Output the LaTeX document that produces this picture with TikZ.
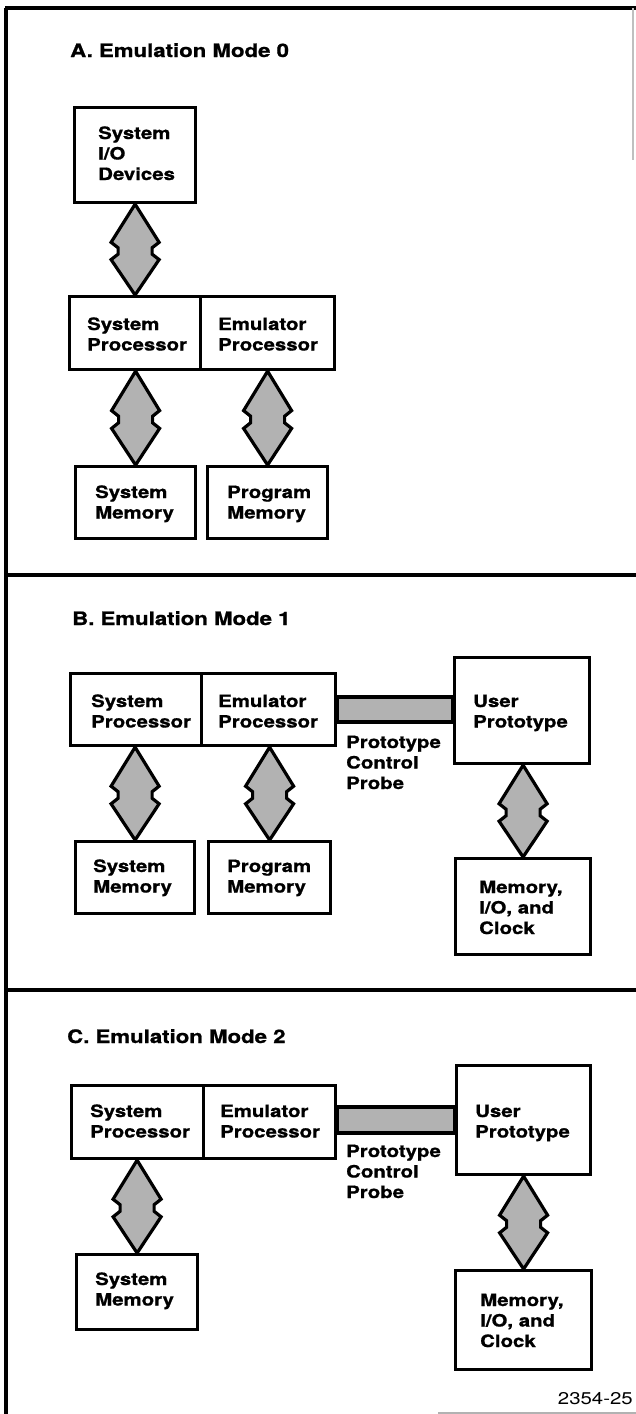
\documentclass[tikz,border=0pt]{standalone}
\usepackage{fontspec}
\usetikzlibrary{calc}
\newfontfamily\hv{TeX Gyre Heros}[FakeStretch=1.2, BoldFeatures={FakeBold=0.9}]
\newcommand\ml[1]{\vtop{\baselineskip=20.5pt\halign{##\hfil\cr#1\crcr}}}
\tikzset{
  frameline/.style={line width=3.2pt},
  blk/.style={draw, line width=3.2pt, rectangle, inner sep=0pt, anchor=north west},
  lbl/.style={font=\hv\bfseries\fontsize{17}{20.5}\selectfont, anchor=base west, inner sep=0pt},
  ttl/.style={font=\hv\bfseries\fontsize{18.5}{22}\selectfont, anchor=base west, inner sep=0pt},
  busarrow/.style={draw, line width=3.2pt, fill=black!30, line join=miter, miter limit=4},
  probe/.style={draw, line width=3.2pt, fill=black!30},
}
\newcommand\bus[2]{%
  \path[busarrow] let \p1=(#1), \p2=(#2), \n1={\y1-\y2} in
  (\x2,\y1) -- (\x2-24pt,\y1-0.42*\n1) -- (\x2-17pt,\y1-0.48*\n1) -- (\x2-17pt,\y1-0.55*\n1)
  -- (\x2-24pt,\y1-0.61*\n1) -- (\x2,\y2) -- (\x2+24pt,\y1-0.61*\n1) -- (\x2+17pt,\y1-0.55*\n1)
  -- (\x2+17pt,\y1-0.48*\n1) -- (\x2+24pt,\y1-0.42*\n1) -- cycle;}
\begin{document}
\begin{tikzpicture}[x=1pt,y=-1pt]
\useasboundingbox (0,0) rectangle (636,1414);
% frame
\draw[frameline] (5,8) -- (636,8);
\draw[frameline] (6,8) -- (6,1414);
\draw[frameline] (6,575) -- (636,575);
\draw[frameline] (6,990) -- (636,990);
\draw[gray!50, line width=1.2pt] (633,8) -- (633,160);
\draw[gray!60, line width=1.2pt] (438,1413) -- (636,1413);

% ---------- A ----------
\node[ttl] (ta) at (70,57) {A. Emulation Mode 0};
\node[blk, minimum width=121pt, minimum height=95pt] (sio) at (73,106) {};
\node[blk, minimum width=131pt, minimum height=73pt] (aSP) at (68,295) {};
\node[blk, minimum width=134pt, minimum height=73pt] (aEP) at (199,295) {};
\node[blk, minimum width=120pt, minimum height=72pt] (aSM) at (74,465) {};
\node[blk, minimum width=120pt, minimum height=72pt] (aPM) at (206,465) {};
\node[lbl] (tsio) at (98,139) {\ml{System\cr I/O\cr Devices}};
\node[lbl] (taSP) at (87,330) {\ml{System\cr Processor}};
\node[lbl] (taEP) at (218,330) {\ml{Emulator\cr Processor}};
\node[lbl] (taSM) at (95,498) {\ml{System\cr Memory}};
\node[lbl] (taPM) at (227,498) {\ml{Program\cr Memory}};
\bus{sio.south}{aSP.north}
\bus{aSP.south}{aSM.north}
\bus{aEP.south}{aPM.north}

% ---------- B ----------
\node[ttl] (tb) at (72,625) {B. Emulation Mode 1};
\coordinate (pb1) at (0,697);
\coordinate (pb2) at (0,722);
\node[blk, minimum width=131pt, minimum height=72pt] (bSP) at (69,672) {};
\node[blk, minimum width=134pt, minimum height=72pt] (bEP) at (200,672) {};
\node[blk, minimum width=135pt, minimum height=106pt] (bUP) at (453,656) {};
\node[blk, minimum width=119pt, minimum height=72pt] (bSM) at (74,840) {};
\node[blk, minimum width=122pt, minimum height=72pt] (bPM) at (207,840) {};
\node[blk, minimum width=135pt, minimum height=96pt] (bMIO) at (454,857) {};
\path[probe] (bEP.east |- pb1) rectangle (bUP.west |- pb2);
\node[lbl] (tbSP) at (91,707) {\ml{System\cr Processor}};
\node[lbl] (tbEP) at (218,707) {\ml{Emulator\cr Processor}};
\node[lbl] (tbUP) at (473,707) {\ml{User\cr Prototype}};
\node[lbl] (tbPR) at (346,748) {\ml{Prototype\cr Control\cr Probe}};
\node[lbl] (tbSM) at (93,872) {\ml{System\cr Memory}};
\node[lbl] (tbPM) at (227,872) {\ml{Program\cr Memory}};
\node[lbl] (tbMIO) at (479,893) {\ml{Memory,\cr I/O, and\cr Clock}};
\bus{bSP.south}{bSM.north}
\bus{bEP.south}{bPM.north}
\bus{bUP.south}{bMIO.north}

% ---------- C ----------
\node[ttl] (tc) at (67,1043) {C. Emulation Mode 2};
\coordinate (pc1) at (0,1107);
\coordinate (pc2) at (0,1133);
\node[blk, minimum width=132pt, minimum height=73pt] (cSP) at (70,1084) {};
\node[blk, minimum width=132pt, minimum height=73pt] (cEP) at (202,1084) {};
\node[blk, minimum width=134pt, minimum height=109pt] (cUP) at (455,1064) {};
\node[blk, minimum width=121pt, minimum height=75pt] (cSM) at (75,1253) {};
\node[blk, minimum width=136pt, minimum height=99pt] (cMIO) at (454,1269) {};
\path[probe] (cEP.east |- pc1) rectangle (cUP.west |- pc2);
\node[lbl] (tcSP) at (90,1117) {\ml{System\cr Processor}};
\node[lbl] (tcEP) at (220,1117) {\ml{Emulator\cr Processor}};
\node[lbl] (tcUP) at (475,1117) {\ml{User\cr Prototype}};
\node[lbl] (tcPR) at (346,1157) {\ml{Prototype\cr Control\cr Probe}};
\node[lbl] (tcSM) at (95,1285) {\ml{System\cr Memory}};
\node[lbl] (tcMIO) at (480,1306) {\ml{Memory,\cr I/O, and\cr Clock}};
\bus{cSP.south}{cSM.north}
\bus{cUP.south}{cMIO.north}

\node[font=\hv\fontsize{17}{20}\selectfont, anchor=base east, inner sep=0pt] (fig) at (633,1404) {2354-25};
\end{tikzpicture}
\end{document}
